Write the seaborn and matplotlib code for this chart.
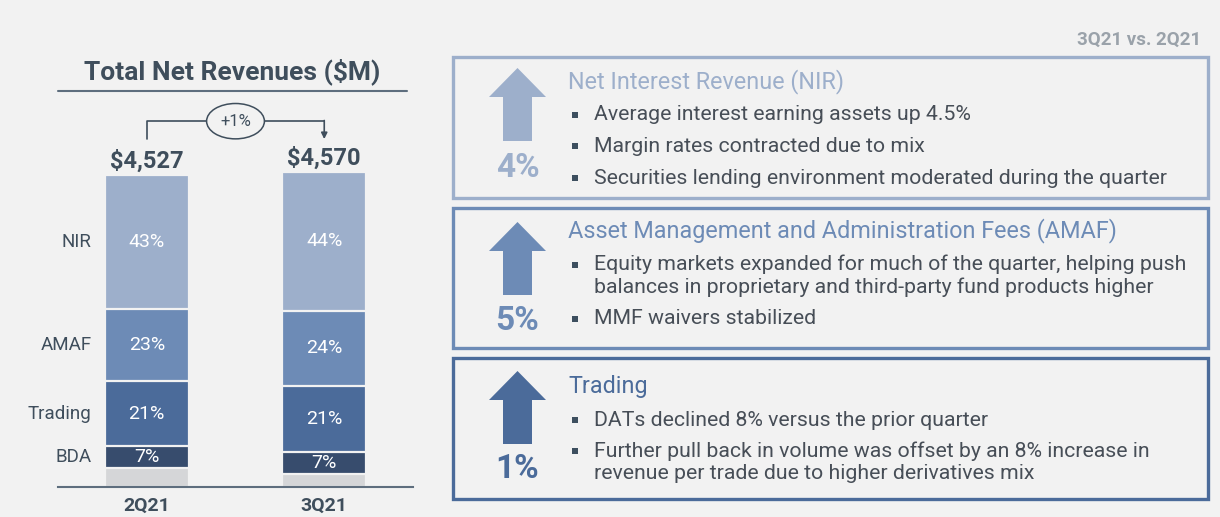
import numpy as np
import seaborn as sns
import matplotlib.pyplot as plt
from matplotlib.patches import Rectangle, Polygon

# ---- left chart data ----
quarters = ["2Q21", "3Q21"]
totals = [4527, 4570]
total_labels = ["$4,527", "$4,570"]
change_label = "+1%"
segments = ["Other", "BDA", "Trading", "AMAF", "NIR"]          # bottom -> top
share_2q21 = [6, 7, 21, 23, 43]
share_3q21 = [4, 7, 21, 24, 44]
seg_colors = ["#D5D6D8", "#374C6D", "#4B6B9A", "#6D8BB6", "#9DAFCB"]

# ---- right side data ----
box_titles = ["Net Interest Revenue (NIR)",
              "Asset Management and Administration Fees (AMAF)",
              "Trading"]
box_changes = ["4%", "5%", "1%"]
box_colors = ["#9DAFCB", "#6D8BB6", "#4B6B9A"]
box_bullets = [
    ["Average interest earning assets up 4.5%",
     "Margin rates contracted due to mix",
     "Securities lending environment moderated during the quarter"],
    ["Equity markets expanded for much of the quarter, helping push\nbalances in proprietary and third-party fund products higher",
     "MMF waivers stabilized"],
    ["DATs declined 8% versus the prior quarter",
     "Further pull back in volume was offset by an 8% increase in\nrevenue per trade due to higher derivatives mix"],
]

BG = "#F2F2F2"
DARK = "#3F4E5C"
BODY = "#474E57"

sns.set_style("white")
plt.rcParams["font.family"] = ["Roboto", "DejaVu Sans"]

fig = plt.figure(figsize=(12.2, 5.17), dpi=100, facecolor=BG)
W, H = 1220, 517

ax = fig.add_axes([58 / W, (H - 487) / H, (413 - 58) / W, (487 - 95) / H])
ax.set_facecolor(BG)

shares = np.array([share_2q21, share_3q21], dtype=float)
values = shares * np.array(totals)[:, None] / 100.0
cum = values.cumsum(axis=1)

# stacked bars: draw cumulative heights from the top segment down
for i in reversed(range(len(segments))):
    sns.barplot(x=quarters, y=cum[:, i], color=seg_colors[i], saturation=1,
                width=0.472, edgecolor=BG, linewidth=1.6, ax=ax)

ax.set_xlim(-0.5, 1.5)
ax.set_ylim(0, 5690)

for q in range(len(quarters)):
    for i, seg in enumerate(segments):
        if seg == "Other":
            continue
        mid = cum[q, i] - values[q, i] / 2
        ax.text(q, mid, f"{int(shares[q, i])}%", ha="center", va="center",
                color="white", fontsize=14)
    ax.text(q, totals[q] + 100, total_labels[q], ha="center", va="baseline",
            color=DARK, fontsize=17, fontweight="bold")

for i, seg in enumerate(segments):
    if seg == "Other":
        continue
    mid = cum[0, i] - values[0, i] / 2
    ax.text(-0.31, mid, seg, ha="right", va="center", color=DARK, fontsize=13.5)

# change bracket
y_h = totals[0] + 783
ax.plot([0, 0, 1], [totals[0] + 520, y_h, y_h], color=DARK, lw=1.2)
ax.annotate("", xy=(1, totals[1] + 480), xytext=(1, y_h + 10),
            arrowprops=dict(arrowstyle="-|>", color=DARK, lw=1.2,
                            mutation_scale=9, shrinkA=0, shrinkB=0))
ax.text(0.5, y_h, change_label, ha="center", va="center", color=DARK, fontsize=12,
        bbox=dict(boxstyle="ellipse,pad=0.3", fc=BG, ec=DARK, lw=1.1))

ax.set_xticks([0, 1])
ax.set_xticklabels(quarters, fontweight="bold", fontsize=14, color=DARK)
ax.tick_params(axis="x", length=0, pad=7)
ax.set_yticks([])
ax.set_xlabel("")
ax.set_ylabel("")
sns.despine(ax=ax, left=True)
ax.spines["bottom"].set_color("#5E6E7E")
ax.spines["bottom"].set_linewidth(1.5)

# ---- overlay in pixel coordinates ----
ov = fig.add_axes([0, 0, 1, 1])
ov.set_xlim(0, W)
ov.set_ylim(H, 0)
ov.axis("off")

ov.text(232, 72, "Total Net Revenues ($M)", ha="center", va="center",
        color=DARK, fontsize=19, fontweight="bold")
ov.plot([58, 407], [91, 91], color="#5E6E7E", lw=1.5)

ov.text(1201, 40, "3Q21 vs. 2Q21", ha="right", va="center", color="#9AA2AA",
        fontsize=13.5, fontweight="bold")

box_tops = [57, 208, 358]
box_bottoms = [198, 348, 499]
head_y = [82, 231, 386]
bullet_y = [[115, 146, 178], [276, 319], [420, 462]]
pct_y = [168, 321, 469]
arrow_top = [68, 222, 371]

for b in range(3):
    c = box_colors[b]
    ov.add_patch(Rectangle((453, box_tops[b]), 755, box_bottoms[b] - box_tops[b],
                           fill=False, ec=c, lw=2.4))
    t = arrow_top[b]
    ov.add_patch(Polygon([(489, t + 29), (517.5, t), (546, t + 29), (532, t + 29),
                          (532, t + 73), (503, t + 73), (503, t + 29)],
                         closed=True, fc=c, ec="none"))
    ov.text(517.5, pct_y[b], box_changes[b], ha="center", va="center", color=c,
            fontsize=24, fontweight="bold")
    ov.text(568, head_y[b], box_titles[b], ha="left", va="center", color=c,
            fontsize=16.8)
    for txt, y in zip(box_bullets[b], bullet_y[b]):
        n = txt.count("\n")
        first = y - n * 11.5
        ov.add_patch(Rectangle((572, first - 3), 6, 6, fc="#3D4F5F", ec="none"))
        ov.text(594, y, txt, ha="left", va="center", color=BODY, fontsize=15.3,
                linespacing=1.2)

fig.savefig("out.png", dpi=100, facecolor=BG)
